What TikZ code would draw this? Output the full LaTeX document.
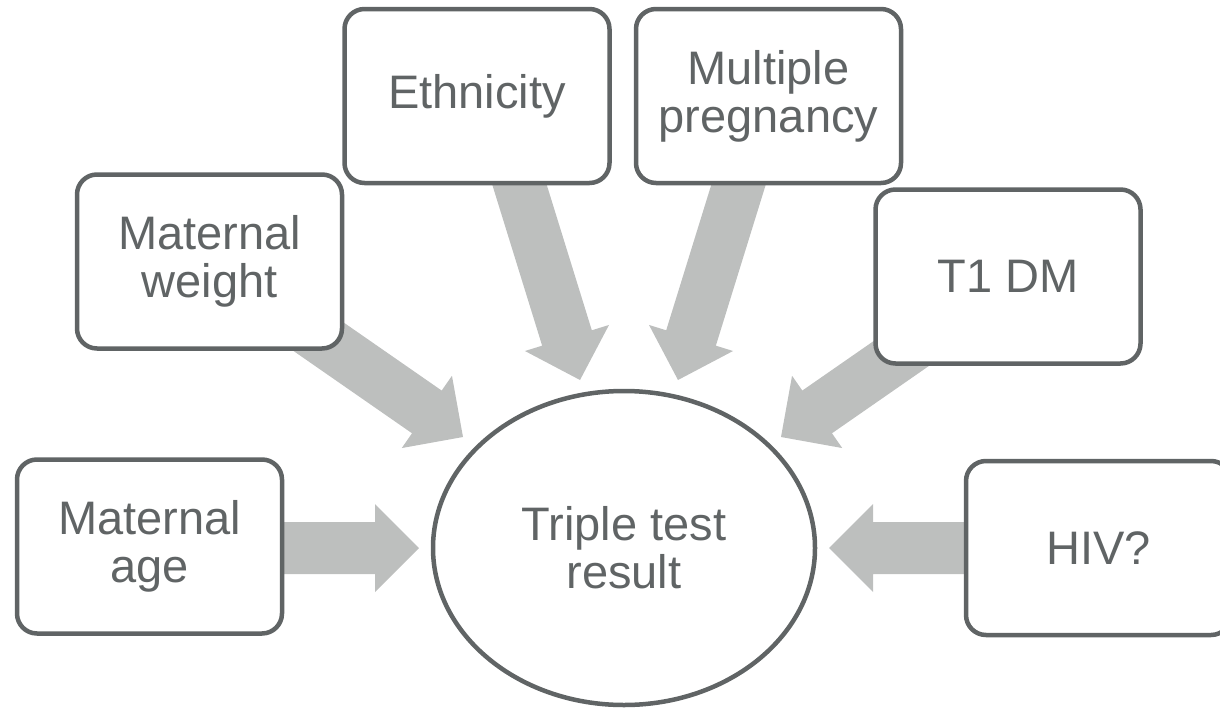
\documentclass[tikz,border=0pt]{standalone}
\usepackage{fontspec}
\setmainfont{Liberation Sans}
\usetikzlibrary{calc,shapes.geometric,backgrounds}
\definecolor{edgegray}{RGB}{96,100,101}
\definecolor{arrowgray}{RGB}{189,191,190}
\tikzset{
  factor/.style={draw=edgegray, line width=4.5pt, fill=white, rounded corners=20pt,
    minimum width=265pt, minimum height=174pt, inner sep=0pt, align=center,
    text=edgegray, font=\fontsize{47pt}{48pt}\selectfont},
  result/.style={ellipse, draw=edgegray, line width=4.5pt, fill=white,
    minimum width=382pt, minimum height=314pt, inner sep=0pt, align=center,
    text=edgegray, font=\fontsize{47pt}{48pt}\selectfont},
  blockfill/.style={fill=arrowgray}
}
% block arrow from tail #1 to tip #2
\newcommand{\blockarrow}[2]{%
  \path coordinate (hb) at ($(#2)!44pt!(#1)$);
  \fill[blockfill] ($(#1)!26pt!90:(hb)$) -- ($(hb)!26pt!-90:(#1)$) -- ($(hb)!44pt!-90:(#1)$)
    -- (#2) -- ($(hb)!44pt!90:(#1)$) -- ($(hb)!26pt!90:(#1)$) -- ($(#1)!26pt!-90:(hb)$) -- cycle;
}
\begin{document}
\begin{tikzpicture}[x=1pt,y=-1pt]
\useasboundingbox (0,0) rectangle (1220,707);
\clip (0,0) rectangle (1220,707);

\node[factor] (age) at (149.5,546.5) {Maternal\\age};
\node[factor] (weight) at (209.5,261.5) {Maternal\\weight};
\node[factor] (eth) at (477,96) {Ethnicity};
\node[factor] (mult) at (768.5,96) {Multiple\\pregnancy};
\node[factor] (t1) at (1008,276.5) {T1 DM};
\node[factor] (hiv) at (1098.5,548) {HIV?};
\node[result] (res) at (624,548) {Triple test\\result};

\coordinate (age-t) at (150,548);   \coordinate (age-h) at (419,548);
\coordinate (weight-t) at (209.5,261); \coordinate (weight-h) at (463,437);
\coordinate (eth-t) at (492,96);    \coordinate (eth-h) at (580,380);
\coordinate (mult-t) at (766,96);   \coordinate (mult-h) at (678,380);
\coordinate (t1-t) at (1034.5,261); \coordinate (t1-h) at (781,437);
\coordinate (hiv-t) at (1098,548);  \coordinate (hiv-h) at (829,548);

\begin{scope}[on background layer]
  \blockarrow{age-t}{age-h}
  \blockarrow{weight-t}{weight-h}
  \blockarrow{eth-t}{eth-h}
  \blockarrow{mult-t}{mult-h}
  \blockarrow{t1-t}{t1-h}
  \blockarrow{hiv-t}{hiv-h}
\end{scope}
\end{tikzpicture}
\end{document}
